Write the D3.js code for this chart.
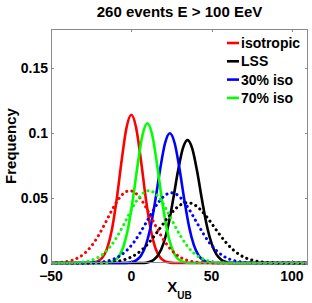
<!DOCTYPE html>
<html><head><meta charset="utf-8">
<script src="https://cdn.jsdelivr.net/npm/d3@7"></script>
<style>body{margin:0;background:#fff}svg{display:block}text{font-family:"Liberation Sans",Arial,sans-serif;font-weight:bold}</style>
</head><body><svg id="c" width="312" height="303"></svg>
<script>
const title = "260 events E > 100 EeV";
const xTicks = [-50, 0, 50, 100];
const yTicks = [0, 0.05, 0.1, 0.15];
const yTickLabels = ["0", "0.05", "0.1", "0.15"];
const seriesNames = ["isotropic", "LSS", "30% iso", "70% iso"];
const seriesColors = ["#ff0000", "#000000", "#0000ff", "#00ff00"];

// solid curves
const isoSolidX = [-50,-27,-24,-21,-18,-15,-12,-9,-6,-3,0,3,6,9,12,15,18,21,24,27,110];
const isoSolidY = [0,0,0.0003,0.0013,0.0042,0.0115,0.0262,0.0499,0.0790,0.1040,0.114,0.1040,0.0790,0.0499,0.0262,0.0115,0.0042,0.0013,0.0003,0,0];
const lssSolidX = [-50,8,11,14,17,20,23,26,29,32,35,38,41,44,47,50,53,56,59,62,110];
const lssSolidY = [0,0,0.0008,0.0025,0.0066,0.0149,0.0289,0.0486,0.0703,0.0878,0.0945,0.0878,0.0703,0.0486,0.0289,0.0149,0.0066,0.0025,0.0008,0,0];
const p30SolidX = [-50,-3,0,3,6,9,12,15,18,21,24,27,30,33,36,39,42,45,48,51,110];
const p30SolidY = [0,0,0.0006,0.0020,0.0056,0.0135,0.0277,0.0486,0.0725,0.0921,0.0998,0.0921,0.0725,0.0486,0.0277,0.0135,0.0056,0.0020,0.0006,0,0];
const p70SolidX = [-50,-17,-14,-11,-8,-5,-2,1,4,7,10,13,16,19,22,25,28,31,34,37,110];
const p70SolidY = [0,0,0.0004,0.0015,0.0047,0.0123,0.0268,0.0492,0.0760,0.0986,0.1075,0.0986,0.0760,0.0492,0.0268,0.0123,0.0047,0.0015,0.0004,0,0];

// dotted curves
const isoDotX = [-50,-49,-45,-41,-37,-33,-29,-25,-21,-17,-13,-9,-5,-1,3,7,11,15,19,23,27,31,35,39,43,47,51,110];
const isoDotY = [0.0001,0.0002,0.0004,0.0009,0.0020,0.0041,0.0075,0.0128,0.0200,0.0289,0.0385,0.0472,0.0534,0.0556,0.0534,0.0472,0.0385,0.0289,0.0200,0.0128,0.0075,0.0041,0.0020,0.0009,0.0004,0.0002,0,0];
const lssDotX = [-50,-25,-21,-17,-13,-9,-5,-1,3,7,11,15,19,23,27,31,35,39,43,47,51,55,59,63,67,71,75,79,83,87,91,95,110];
const lssDotY = [0,0,0.0001,0.0003,0.0006,0.0012,0.0023,0.0040,0.0067,0.0106,0.0157,0.0219,0.0287,0.0354,0.0411,0.0450,0.0464,0.0450,0.0411,0.0354,0.0287,0.0219,0.0157,0.0106,0.0067,0.0040,0.0023,0.0012,0.0006,0.0003,0.0001,0,0];
const p30DotX = [-50,-27,-23,-19,-15,-11,-7,-3,1,5,9,13,17,21,25,29,33,37,41,45,49,53,57,61,65,69,73,77,110];
const p30DotY = [0,0,0.0003,0.0007,0.0015,0.0030,0.0056,0.0095,0.0150,0.0222,0.0306,0.0392,0.0468,0.0521,0.0540,0.0521,0.0468,0.0392,0.0306,0.0222,0.0150,0.0095,0.0056,0.0030,0.0015,0.0007,0.0003,0,0];
const p70DotX = [-50,-41,-37,-33,-29,-25,-21,-17,-13,-9,-5,-1,3,7,11,15,19,23,27,31,35,39,43,47,51,55,59,63,110];
const p70DotY = [0,0,0.0002,0.0004,0.0009,0.0020,0.0041,0.0075,0.0128,0.0200,0.0289,0.0385,0.0472,0.0534,0.0556,0.0534,0.0472,0.0385,0.0289,0.0200,0.0128,0.0075,0.0041,0.0020,0.0009,0.0004,0.0002,0,0];

const solid = [[isoSolidX,isoSolidY],[lssSolidX,lssSolidY],[p30SolidX,p30SolidY],[p70SolidX,p70SolidY]];
const dotted = [[isoDotX,isoDotY],[lssDotX,lssDotY],[p30DotX,p30DotY],[p70DotX,p70DotY]];

const svg = d3.select("#c");
const L = 51, R = 308, T = 29, B = 263;
const x = d3.scaleLinear().domain([-50, 110]).range([L, R]);
const y = d3.scaleLinear().domain([0, 0.18]).range([B, T]);

svg.append("defs").append("clipPath").attr("id","clip")
  .append("rect").attr("x",L).attr("y",T-2).attr("width",R-L).attr("height",B-T+4);

const line = d3.line().x(d=>x(d[0])).y(d=>y(d[1])).curve(d3.curveMonotoneX);
const g = svg.append("g").attr("clip-path","url(#clip)");

solid.forEach((s,i)=>{
  const pts = s[0].map((v,k)=>[v,s[1][k]]);
  g.append("path").attr("d", line(pts)).attr("fill","none")
    .attr("stroke", seriesColors[i]).attr("stroke-width", 2.6).attr("stroke-linejoin","round");
});
dotted.forEach((s,i)=>{
  const pts = s[0].map((v,k)=>[v,s[1][k]]);
  g.append("path").attr("d", line(pts)).attr("fill","none")
    .attr("stroke", seriesColors[i]).attr("stroke-width", 3)
    .attr("stroke-linecap","round").attr("stroke-dasharray","0.1 5.2");
});

// axes box
const ax = svg.append("g").attr("stroke","#8a8a8a").attr("stroke-width",1).attr("fill","none");
ax.append("rect").attr("x",L+0.5).attr("y",T+0.5).attr("width",R-L-1).attr("height",B-T-1);
const tl = 3;
xTicks.forEach(t=>{
  const px = Math.round(x(t))+0.5;
  ax.append("line").attr("x1",px).attr("x2",px).attr("y1",B).attr("y2",B-tl);
  ax.append("line").attr("x1",px).attr("x2",px).attr("y1",T).attr("y2",T+tl);
});
yTicks.forEach(t=>{
  const py = Math.round(y(t))+0.5;
  ax.append("line").attr("x1",L).attr("x2",L+tl).attr("y1",py).attr("y2",py);
  ax.append("line").attr("x1",R).attr("x2",R-tl).attr("y1",py).attr("y2",py);
});

// tick labels
svg.selectAll(".xt").data(xTicks).enter().append("text")
  .attr("x", d=>x(d)).attr("y", B+18).attr("text-anchor","middle")
  .attr("font-size",14).text(d=> d<0 ? "\u2212"+Math.abs(d) : d);
svg.selectAll(".yt").data(yTicks).enter().append("text")
  .attr("x", L-3).attr("y", d=>y(d)+(d===0?1:5)).attr("text-anchor","end")
  .attr("font-size",14).text((d,i)=>yTickLabels[i]);

// title
svg.append("text").attr("x",(L+R)/2).attr("y",17).attr("text-anchor","middle")
  .attr("font-size",15).text(title);

// x label
const xl = svg.append("text").attr("x",(L+R)/2).attr("y",292).attr("text-anchor","middle").attr("font-size",15);
xl.append("tspan").text("X");
xl.append("tspan").attr("font-size",10).attr("dy",7).text("UB");

// y label
svg.append("text").attr("transform",`translate(16,${(T+B)/2}) rotate(-90)`)
  .attr("text-anchor","middle").attr("font-size",15).text("Frequency");

// legend
seriesNames.forEach((n,i)=>{
  const ly = 43 + i*18.3;
  svg.append("line").attr("x1",227).attr("x2",239).attr("y1",ly).attr("y2",ly)
    .attr("stroke",seriesColors[i]).attr("stroke-width",2.6);
  svg.append("text").attr("x",241).attr("y",ly+5).attr("font-size",14).text(n);
});
</script></body></html>
